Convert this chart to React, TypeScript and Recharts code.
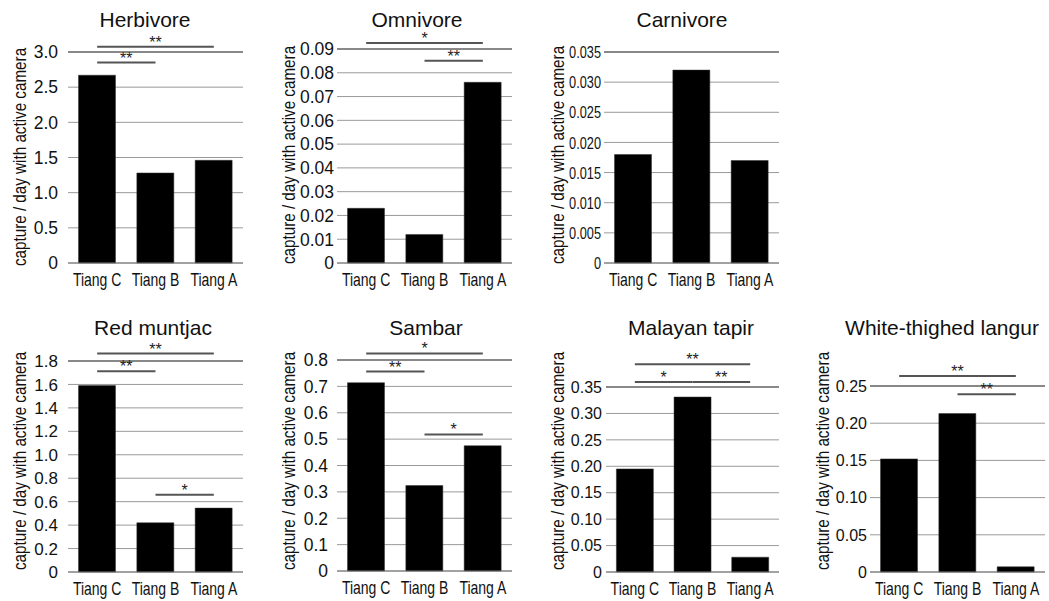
import React from "react";
import { BarChart, Bar, XAxis, YAxis, CartesianGrid, ReferenceLine } from "recharts";

const categories = ["Tiang C", "Tiang B", "Tiang A"];

const herbivore = [2.67, 1.28, 1.46];
const omnivore = [0.023, 0.012, 0.076];
const carnivore = [0.018, 0.032, 0.017];
const redMuntjac = [1.59, 0.42, 0.545];
const sambar = [0.714, 0.324, 0.475];
const malayanTapir = [0.195, 0.331, 0.028];
const whiteThighedLangur = [0.152, 0.213, 0.007];

const herbivoreTicks = [0, 0.5, 1.0, 1.5, 2.0, 2.5, 3.0];
const omnivoreTicks = [0, 0.01, 0.02, 0.03, 0.04, 0.05, 0.06, 0.07, 0.08, 0.09];
const carnivoreTicks = [0, 0.005, 0.01, 0.015, 0.02, 0.025, 0.03, 0.035];
const redMuntjacTicks = [0, 0.2, 0.4, 0.6, 0.8, 1.0, 1.2, 1.4, 1.6, 1.8];
const sambarTicks = [0, 0.1, 0.2, 0.3, 0.4, 0.5, 0.6, 0.7, 0.8];
const tapirTicks = [0, 0.05, 0.1, 0.15, 0.2, 0.25, 0.3, 0.35];
const langurTicks = [0, 0.05, 0.1, 0.15, 0.2, 0.25];

type Sig = { from: string; to: string; y: number; mark: string };

const herbivoreSig: Sig[] = [
  { from: "Tiang C", to: "Tiang A", y: 3.075, mark: "**" },
  { from: "Tiang C", to: "Tiang B", y: 2.85, mark: "**" },
];
const omnivoreSig: Sig[] = [
  { from: "Tiang C", to: "Tiang A", y: 0.0925, mark: "*" },
  { from: "Tiang B", to: "Tiang A", y: 0.0851, mark: "**" },
];
const carnivoreSig: Sig[] = [];
const redMuntjacSig: Sig[] = [
  { from: "Tiang C", to: "Tiang A", y: 1.863, mark: "**" },
  { from: "Tiang C", to: "Tiang B", y: 1.712, mark: "**" },
  { from: "Tiang B", to: "Tiang A", y: 0.66, mark: "*" },
];
const sambarSig: Sig[] = [
  { from: "Tiang C", to: "Tiang A", y: 0.825, mark: "*" },
  { from: "Tiang C", to: "Tiang B", y: 0.756, mark: "**" },
  { from: "Tiang B", to: "Tiang A", y: 0.518, mark: "*" },
];
const tapirSig: Sig[] = [
  { from: "Tiang C", to: "Tiang A", y: 0.393, mark: "**" },
  { from: "Tiang C", to: "Tiang B", y: 0.3595, mark: "*" },
  { from: "Tiang B", to: "Tiang A", y: 0.3595, mark: "**" },
];
const langurSig: Sig[] = [
  { from: "Tiang C", to: "Tiang A", y: 0.2635, mark: "**" },
  { from: "Tiang B", to: "Tiang A", y: 0.239, mark: "**" },
];

const W = 1049;
const H = 601;
const YW = 60;
const XH = 30;
const X_SQUEEZE = 0.8;
const X_FS = 17.5;
const LABEL_FS = 17.5;
const LABEL_SQUEEZE = 0.87;

const regular = "'Liberation Sans', Arial, sans-serif";

type Layout = {
  plotLeft: number;
  plotRight: number;
  plotTop: number;
  plotBottom: number;
  titleX: number;
  titleY: number;
  labelX: number;
  labelY: number;
  tickGap: number;
  yFs: number;
  ySqueeze: number;
};

type Panel = {
  title: string;
  values: number[];
  ticks: number[];
  decimals: number;
  sig: Sig[];
  layout: Layout;
};

const panels: Panel[] = [
  {
    title: "Herbivore", values: herbivore, ticks: herbivoreTicks, decimals: 1, sig: herbivoreSig,
    layout: { plotLeft: 68, plotRight: 243, plotTop: 52, plotBottom: 263, titleX: 145, titleY: 20, labelX: 20, labelY: 157, tickGap: 10, yFs: 17.5, ySqueeze: 1 },
  },
  {
    title: "Omnivore", values: omnivore, ticks: omnivoreTicks, decimals: 2, sig: omnivoreSig,
    layout: { plotLeft: 337, plotRight: 512, plotTop: 49, plotBottom: 263, titleX: 417, titleY: 20, labelX: 289, labelY: 155, tickGap: 3, yFs: 17.5, ySqueeze: 1 },
  },
  {
    title: "Carnivore", values: carnivore, ticks: carnivoreTicks, decimals: 3, sig: carnivoreSig,
    layout: { plotLeft: 604, plotRight: 779, plotTop: 52, plotBottom: 263, titleX: 682, titleY: 20, labelX: 558, labelY: 155, tickGap: 3, yFs: 17, ySqueeze: 0.75 },
  },
  {
    title: "Red muntjac", values: redMuntjac, ticks: redMuntjacTicks, decimals: 1, sig: redMuntjacSig,
    layout: { plotLeft: 68, plotRight: 243, plotTop: 361, plotBottom: 572, titleX: 153, titleY: 328, labelX: 20, labelY: 461, tickGap: 10, yFs: 17, ySqueeze: 1 },
  },
  {
    title: "Sambar", values: sambar, ticks: sambarTicks, decimals: 1, sig: sambarSig,
    layout: { plotLeft: 337, plotRight: 512, plotTop: 360, plotBottom: 571, titleX: 426, titleY: 328, labelX: 289, labelY: 461, tickGap: 9, yFs: 17.5, ySqueeze: 1 },
  },
  {
    title: "Malayan tapir", values: malayanTapir, ticks: tapirTicks, decimals: 2, sig: tapirSig,
    layout: { plotLeft: 606, plotRight: 779, plotTop: 387, plotBottom: 572, titleX: 691, titleY: 328, labelX: 558, labelY: 461, tickGap: 4, yFs: 16, ySqueeze: 1 },
  },
  {
    title: "White-thighed langur", values: whiteThighedLangur, ticks: langurTicks, decimals: 2, sig: langurSig,
    layout: { plotLeft: 870, plotRight: 1045, plotTop: 386, plotBottom: 572, titleX: 942, titleY: 328, labelX: 823, labelY: 461, tickGap: 3, yFs: 16, ySqueeze: 1 },
  },
];

function XTick(props: any) {
  const { x, y, payload } = props;
  return (
    <text
      transform={`translate(${x},${y}) scale(${X_SQUEEZE},1)`}
      x={0}
      y={0}
      dy="0.71em"
      textAnchor="middle"
      fontSize={X_FS}
      fontFamily={regular}
      fill="#111"
    >
      {payload.value}
    </text>
  );
}

function makeYTick(fmt: (v: number) => string, fs: number, squeeze: number) {
  return function YTick(props: any) {
    const { x, y, payload } = props;
    return (
      <text
        transform={`translate(${x},${y}) scale(${squeeze},1)`}
        x={0}
        y={0}
        dy="0.36em"
        textAnchor="end"
        fontSize={fs}
        fontFamily={regular}
        fill="#111"
      >
        {fmt(payload.value)}
      </text>
    );
  };
}

function SmallChart({ p }: { p: Panel }) {
  const L = p.layout;
  const data = categories.map((name, i) => ({ name, value: p.values[i] }));
  const max = p.ticks[p.ticks.length - 1];
  const fmt = (v: number) => (v === 0 ? "0" : v.toFixed(p.decimals));
  const YTick = makeYTick(fmt, L.yFs, L.ySqueeze);
  return (
    <div style={{ position: "absolute", left: 0, top: 0, width: W, height: H, pointerEvents: "none" }}>
      <BarChart
        width={W}
        height={H}
        data={data}
        margin={{ top: L.plotTop, right: W - L.plotRight, bottom: H - L.plotBottom - XH, left: L.plotLeft - YW }}
        barCategoryGap="18%"
      >
        <CartesianGrid horizontal vertical={false} stroke="#9a9a9a" strokeWidth={1} />
        <XAxis
          dataKey="name"
          height={XH}
          interval={0}
          tickLine={false}
          axisLine={{ stroke: "#777", strokeWidth: 1 }}
          tickSize={0}
          tickMargin={11}
          tick={<XTick />}
        />
        <YAxis
          type="number"
          width={YW}
          domain={[0, max]}
          ticks={p.ticks}
          interval={0}
          tickFormatter={fmt}
          axisLine={false}
          tickLine={false}
          tickSize={L.tickGap}
          tickMargin={0}
          tick={<YTick />}
          label={{
            content: () => (
              <text
                transform={`translate(${L.labelX},${L.labelY}) rotate(-90) scale(${LABEL_SQUEEZE},1)`}
                x={0}
                y={0}
                dy="0.36em"
                textAnchor="middle"
                fontSize={LABEL_FS}
                fill="#111"
                fontFamily={regular}
              >
                capture / day with active camera
              </text>
            ),
          }}
        />
        <ReferenceLine y={max} stroke="#444" strokeWidth={1} ifOverflow="visible" />
        <Bar dataKey="value" fill="#000" stroke="#333" strokeWidth={0.5} isAnimationActive={false} />
        {p.sig.map((s, i) => (
          <ReferenceLine
            key={i}
            segment={[
              { x: s.from, y: s.y },
              { x: s.to, y: s.y },
            ]}
            stroke="#555"
            strokeWidth={2}
            ifOverflow="visible"
            label={{ value: s.mark, position: "top", offset: -1, fontSize: 16, fill: "#222", fontFamily: regular }}
          />
        ))}
      </BarChart>
    </div>
  );
}

export default function App() {
  return (
    <div style={{ position: "absolute", left: 0, top: 0, width: W, height: H, background: "#fff", overflow: "hidden" }}>
      {panels.map((p) => (
        <SmallChart key={p.title} p={p} />
      ))}
      {panels.map((p) => (
        <div
          key={p.title + "-t"}
          style={{
            position: "absolute",
            left: p.layout.titleX,
            top: p.layout.titleY,
            transform: "translate(-50%, -50%)",
            fontFamily: regular,
            fontSize: 21,
            color: "#111",
            whiteSpace: "nowrap",
            lineHeight: 0.75,
          }}
        >
          {p.title}
        </div>
      ))}
    </div>
  );
}
